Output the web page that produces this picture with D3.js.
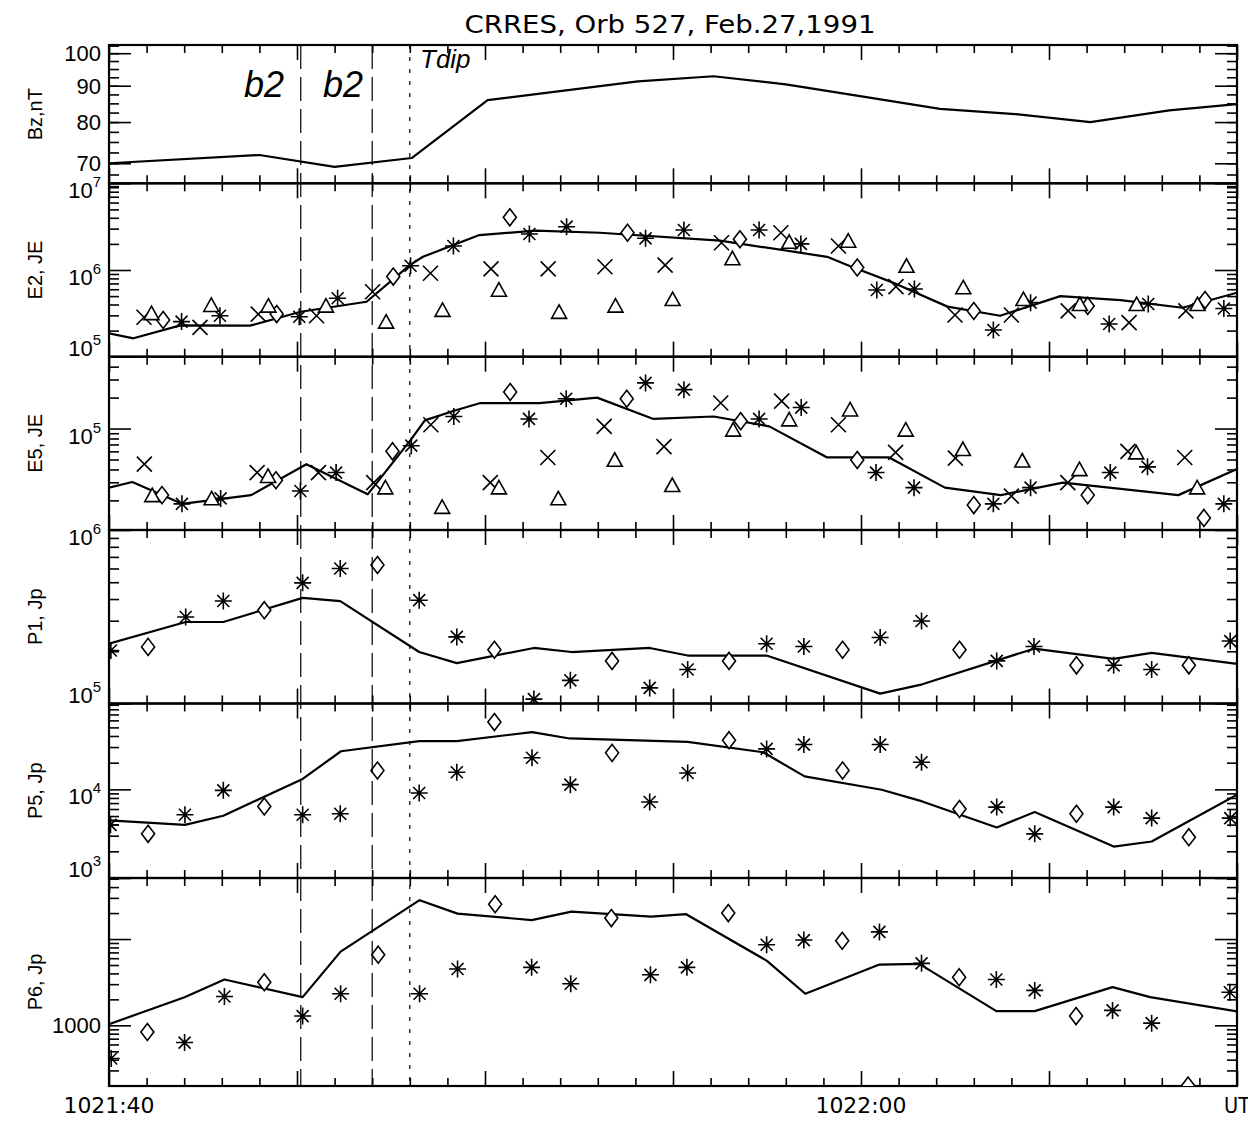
<!DOCTYPE html>
<html>
<head>
<meta charset="utf-8">
<script src="https://cdn.jsdelivr.net/npm/d3@7"></script>
<style>
  body { margin: 0; background: #fff; }
  svg text { fill: #000; }
</style>
</head>
<body>
<svg id="chart" width="1248" height="1122"></svg>
<script>
// seconds after 1021:40 UT
var xTicksMajor = [0, 5, 10, 15, 20, 25, 30];
var xTickLabels = ["1021:40", "", "", "", "1022:00", "", "UT"];
var boundaryT = [5.1, 7.0];
var tdipT = 8.0;

// Bz, nT
var bzT = [0, 4.0, 6.0, 8.05, 10.07, 14.07, 16.08, 18.0, 20.1, 22.1, 24.1, 26.1, 28.2, 30];
var bzV = [70.0, 71.9, 69.2, 71.2, 85.9, 91.3, 92.8, 90.4, 86.8, 83.5, 82.1, 80.0, 83.1, 84.8];
var bzTickLabels = [70, 80, 90, 100];

// E2, JE
var e2LineT = [0, 0.65, 1.9, 3.75, 5.1, 6.85, 8.0, 8.35, 9.85, 11.35, 13.05, 16.25, 19.1, 19.7, 20.8, 22.3, 23.7, 25.3, 26.9, 28.55, 30];
var e2LineV = [1.86e5, 1.63e5, 2.3e5, 2.28e5, 3.3e5, 4.3e5, 1.14e6, 1.42e6, 2.53e6, 2.84e6, 2.69e6, 2.18e6, 1.42e6, 1.11e6, 7.3e5, 3.78e5, 2.97e5, 5.0e5, 4.5e5, 3.67e5, 5.47e5];
var e2StarT = [1.93, 2.95, 5.06, 6.08, 8.02, 9.16, 11.18, 12.17, 14.27, 15.29, 17.29, 18.4, 20.42, 21.42, 23.52, 24.51, 26.6, 27.64, 29.65];
var e2StarV = [2.54e5, 2.97e5, 2.89e5, 4.72e5, 1.12e6, 1.89e6, 2.6e6, 3.16e6, 2.32e6, 2.89e6, 2.89e6, 2.0e6, 5.88e5, 6.04e5, 2.03e5, 4.2e5, 2.38e5, 4.05e5, 3.6e5];
var e2DiamT = [1.44, 4.46, 7.56, 10.66, 13.79, 16.78, 19.9, 23.0, 26.03, 29.15];
var e2DiamV = [2.65e5, 3.1e5, 8.4e5, 4.05e6, 2.69e6, 2.26e6, 1.07e6, 3.37e5, 3.85e5, 4.5e5];
var e2CrossT = [0.93, 2.42, 3.97, 5.52, 7.01, 8.55, 10.16, 11.68, 13.19, 14.79, 16.29, 17.87, 19.4, 20.93, 22.5, 24.0, 25.51, 27.13, 28.64];
var e2CrossV = [2.85e5, 2.18e5, 3.1e5, 2.97e5, 5.62e5, 9.17e5, 1.03e6, 1.03e6, 1.09e6, 1.14e6, 2.06e6, 2.69e6, 1.89e6, 6.42e5, 3.03e5, 3.03e5, 3.38e5, 2.47e5, 3.38e5];
var e2TriT = [1.13, 2.72, 4.24, 5.77, 7.37, 8.87, 10.37, 11.97, 13.47, 14.99, 16.58, 18.09, 19.66, 21.21, 22.72, 24.32, 25.82, 27.33, 28.95];
var e2TriV = [3.1e5, 3.85e5, 3.78e5, 3.78e5, 2.47e5, 3.38e5, 5.77e5, 3.2e5, 3.78e5, 4.5e5, 1.33e6, 2.06e6, 2.12e6, 1.09e6, 6.15e5, 4.5e5, 3.94e5, 3.94e5, 3.94e5];
var e2TickLabels = [1e5, 1e6, 1e7];

// E5, JE
var e5LineT = [0, 0.62, 1.94, 3.78, 5.25, 6.88, 8.04, 8.4, 9.2, 9.88, 11.45, 12.98, 14.48, 16.08, 17.56, 19.1, 20.75, 22.23, 23.72, 25.37, 28.44, 30];
var e5LineV = [2.66e4, 3.02e4, 1.85e4, 2.25e4, 4.5e4, 2.29e4, 7.9e4, 1.2e5, 1.5e5, 1.77e5, 1.77e5, 2.0e5, 1.24e5, 1.31e5, 1.05e5, 5.23e4, 5.23e4, 2.66e4, 2.25e4, 2.98e4, 2.25e4, 4.03e4];
var e5StarT = [1.94, 2.97, 5.09, 6.04, 8.04, 9.17, 11.17, 12.16, 14.27, 15.29, 17.29, 18.41, 20.4, 21.41, 23.52, 24.51, 26.63, 27.62, 29.65];
var e5StarV = [1.85e4, 2.09e4, 2.47e4, 3.73e4, 6.81e4, 1.31e5, 1.24e5, 1.95e5, 2.78e5, 2.39e5, 1.24e5, 1.6e5, 3.73e4, 2.66e4, 1.85e4, 2.66e4, 3.73e4, 4.24e4, 1.85e4];
var e5DiamT = [1.41, 4.44, 7.54, 10.67, 13.77, 16.8, 19.9, 23.0, 26.03, 29.12];
var e5DiamV = [2.25e4, 3.14e4, 6.0e4, 2.27e5, 1.95e5, 1.18e5, 4.94e4, 1.8e4, 2.25e4, 1.35e4];
var e5CrossT = [0.94, 3.94, 5.57, 7.04, 8.56, 10.14, 11.67, 13.17, 14.76, 16.27, 17.89, 19.4, 20.92, 22.51, 24.0, 25.5, 27.1, 28.61];
var e5CrossV = [4.5e4, 3.73e4, 3.73e4, 2.98e4, 1.09e5, 2.98e4, 5.23e4, 1.05e5, 6.66e4, 1.77e5, 1.85e5, 1.09e5, 5.86e4, 5.16e4, 2.2e4, 2.98e4, 6.0e4, 5.23e4];
var e5TriT = [1.15, 2.73, 4.23, 7.35, 8.86, 10.37, 11.95, 13.45, 14.98, 16.6, 18.09, 19.71, 21.19, 22.71, 24.29, 25.81, 27.32, 28.94];
var e5TriV = [2.2e4, 2.05e4, 3.38e4, 2.62e4, 1.69e4, 2.62e4, 2.05e4, 4.86e4, 2.76e4, 9.55e4, 1.2e5, 1.5e5, 9.55e4, 6.18e4, 4.78e4, 3.94e4, 5.73e4, 2.62e4];
var e5TickLabels = [1e5];

// P1, Jp
var p1LineT = [0, 2.04, 3.04, 5.15, 6.15, 8.25, 9.25, 11.3, 12.3, 14.38, 15.39, 17.49, 20.51, 21.63, 24.6, 26.72, 27.73, 30];
var p1LineV = [2.21e5, 2.95e5, 2.95e5, 4.06e5, 3.89e5, 1.98e5, 1.71e5, 2.09e5, 1.98e5, 2.09e5, 1.89e5, 1.89e5, 1.14e5, 1.29e5, 2.07e5, 1.81e5, 1.96e5, 1.69e5];
var p1StarT = [0.05, 2.04, 3.04, 5.15, 6.15, 8.25, 9.25, 11.3, 12.27, 14.38, 15.39, 17.49, 18.48, 20.51, 21.61, 23.61, 24.6, 26.72, 27.73, 29.82];
var p1StarV = [2.02e5, 3.15e5, 3.9e5, 4.96e5, 6.0e5, 3.94e5, 2.42e5, 1.06e5, 1.36e5, 1.23e5, 1.57e5, 2.21e5, 2.13e5, 2.4e5, 2.99e5, 1.76e5, 2.13e5, 1.66e5, 1.57e5, 2.29e5];
var p1DiamT = [1.04, 4.13, 7.14, 10.25, 13.38, 16.49, 19.51, 22.62, 25.73, 28.72];
var p1DiamV = [2.12e5, 3.45e5, 6.28e5, 2.04e5, 1.76e5, 1.76e5, 2.04e5, 2.04e5, 1.66e5, 1.66e5];
var p1TickLabels = [1e5, 1e6];

// P5, Jp
var p5LineT = [0, 2.02, 3.04, 5.15, 6.17, 8.25, 9.25, 11.25, 12.25, 15.39, 17.4, 18.5, 20.55, 21.63, 23.61, 24.62, 26.72, 27.73, 30];
var p5LineV = [4.46e3, 3.98e3, 5.04e3, 1.31e4, 2.69e4, 3.5e4, 3.5e4, 4.42e4, 3.75e4, 3.44e4, 2.62e4, 1.4e4, 9.9e3, 7.31e3, 3.72e3, 5.55e3, 2.26e3, 2.58e3, 8.7e3];
var p5StarT = [0.04, 2.02, 3.04, 5.15, 6.15, 8.25, 9.25, 11.25, 12.27, 14.38, 15.39, 17.49, 18.48, 20.51, 21.61, 23.61, 24.62, 26.72, 27.73, 29.82];
var p5StarV = [3.98e3, 5.17e3, 9.75e3, 5.17e3, 5.3e3, 9.1e3, 1.56e4, 2.27e4, 1.13e4, 7.2e3, 1.53e4, 2.86e4, 3.2e4, 3.2e4, 2.02e4, 6.31e3, 3.15e3, 6.31e3, 4.74e3, 4.74e3];
var p5DiamT = [1.04, 4.13, 7.14, 10.25, 13.38, 16.49, 19.51, 22.62, 25.73, 28.72];
var p5DiamV = [3.15e3, 6.42e3, 1.63e4, 5.74e4, 2.58e4, 3.59e4, 1.63e4, 6.0e3, 5.3e3, 2.89e3];
var p5TickLabels = [1e3, 1e4];

// P6, Jp
var p6LineT = [0, 2.01, 3.07, 5.15, 6.16, 8.26, 9.27, 11.24, 12.3, 14.42, 15.35, 17.49, 18.52, 20.49, 21.55, 23.6, 24.62, 26.69, 27.69, 30];
var p6LineV = [1.03e3, 2.12e3, 3.4e3, 2.12e3, 7.14e3, 2.82e4, 1.97e4, 1.66e4, 2.08e4, 1.82e4, 1.94e4, 5.62e3, 2.32e3, 5.06e3, 5.15e3, 1.46e3, 1.46e3, 2.77e3, 2.12e3, 1.45e3];
var p6StarT = [0.06, 2.01, 3.07, 5.15, 6.16, 8.26, 9.27, 11.24, 12.28, 14.4, 15.37, 17.49, 18.48, 20.49, 21.61, 23.6, 24.62, 26.69, 27.73, 29.81];
var p6StarV = [413, 631, 2.16e3, 1.28e3, 2.32e3, 2.32e3, 4.5e3, 4.7e3, 3.03e3, 3.85e3, 4.7e3, 8.6e3, 9.73e3, 1.21e4, 5.23e3, 3.4e3, 2.54e3, 1.49e3, 1.06e3, 2.42e3];
var p6DiamT = [1.02, 4.13, 7.16, 10.27, 13.36, 16.47, 19.5, 22.61, 25.72, 28.7];
var p6DiamV = [837, 3.16e3, 6.59e3, 2.53e4, 1.75e4, 2.0e4, 9.55e3, 3.61e3, 1.28e3, 200];
var p6TickLabels = [1000];

var svg = d3.select('#chart');
var x = d3.scaleLinear().domain([0, 30]).range([109, 1237]);
var lblFont = '"Liberation Sans", Arial, sans-serif';
var narrowFont = '"Liberation Sans Narrow", "DejaVu Sans Condensed", sans-serif';

var panels = [
  {name: 'Bz,nT', top: 45, bottom: 183.3, domain: [65.6, 102.7], fmt: 'plain',
   line: [bzT, bzV], marks: [], labels: bzTickLabels,
   major: [70, 80, 90, 100], minor: d3.range(65, 103, 2.5)},
  {name: 'E2, JE', top: 183.3, bottom: 356.7, domain: [1e5, 1e7], fmt: 'exp',
   line: [e2LineT, e2LineV], labels: e2TickLabels,
   marks: [['star', e2StarT, e2StarV], ['diamond', e2DiamT, e2DiamV], ['cross', e2CrossT, e2CrossV], ['tri', e2TriT, e2TriV]]},
  {name: 'E5, JE', top: 356.7, bottom: 530, domain: [1.03e4, 5e5], fmt: 'exp',
   line: [e5LineT, e5LineV], labels: e5TickLabels,
   marks: [['star', e5StarT, e5StarV], ['diamond', e5DiamT, e5DiamV], ['cross', e5CrossT, e5CrossV], ['tri', e5TriT, e5TriV]]},
  {name: 'P1, Jp', top: 530, bottom: 703.5, domain: [1e5, 1e6], fmt: 'exp',
   line: [p1LineT, p1LineV], labels: p1TickLabels,
   marks: [['star', p1StarT, p1StarV], ['diamond', p1DiamT, p1DiamV]]},
  {name: 'P5, Jp', top: 703.5, bottom: 878, domain: [1e3, 9.3e4], fmt: 'exp',
   line: [p5LineT, p5LineV], labels: p5TickLabels,
   marks: [['star', p5StarT, p5StarV], ['diamond', p5DiamT, p5DiamV]]},
  {name: 'P6, Jp', top: 878, bottom: 1086, domain: [198, 5.1e4], fmt: 'plain',
   line: [p6LineT, p6LineV], labels: p6TickLabels,
   marks: [['star', p6StarT, p6StarV], ['diamond', p6DiamT, p6DiamV]]}
];

function logTicks(dom) {
  var major = [], minor = [];
  var lo = Math.floor(Math.log10(dom[0])), hi = Math.ceil(Math.log10(dom[1]));
  for (var n = lo; n <= hi; n++) {
    for (var k = 1; k <= 9; k++) {
      var v = k * Math.pow(10, n);
      if (v < dom[0] * 0.999 || v > dom[1] * 1.001) continue;
      if (k == 1) major.push(v); else minor.push(v);
    }
  }
  return {major: major, minor: minor};
}

// marker paths, centred on 0,0
var symbols = {
  star: 'M0,-8.5V8.5M-8.5,0H8.5M-6,-6L6,6M-6,6L6,-6',
  cross: 'M-7.5,-7.5L7.5,7.5M-7.5,7.5L7.5,-7.5',
  diamond: 'M0,-8.5L6.5,0L0,8.5L-6.5,0Z',
  tri: 'M0,-8L7.5,5.5H-7.5Z'
};

panels.forEach(function(p, i) {
  var y = d3.scaleLog().domain(p.domain).range([p.bottom, p.top]);
  var g = svg.append('g');
  var major = p.major, minor = p.minor;
  if (!major) { var lt = logTicks(p.domain); major = lt.major; minor = lt.minor; }

  // clip region for data
  g.append('clipPath').attr('id', 'clip' + i)
    .append('rect').attr('x', x(0)).attr('y', p.top)
    .attr('width', x(30) - x(0)).attr('height', p.bottom - p.top);

  var xMinor = d3.range(0, 31).filter(function(t) { return t % 5 != 0; });

  // x ticks top (pointing down) and bottom (pointing up)
  [[xTicksMajor, 15], [xMinor, 8]].forEach(function(s) {
    g.append('g').attr('transform', 'translate(0,' + p.top + ')')
      .call(d3.axisTop(x).tickValues(s[0]).tickSize(-s[1]).tickFormat(''));
    g.append('g').attr('transform', 'translate(0,' + p.bottom + ')')
      .call(d3.axisBottom(x).tickValues(s[0]).tickSize(-s[1]).tickFormat(''));
  });
  // y ticks left and right (pointing inwards)
  [[major, 22], [minor, 10]].forEach(function(s) {
    g.append('g').attr('transform', 'translate(' + x(0) + ',0)')
      .call(d3.axisLeft(y).tickValues(s[0]).tickSize(-s[1]).tickFormat(''));
    g.append('g').attr('transform', 'translate(' + x(30) + ',0)')
      .call(d3.axisRight(y).tickValues(s[0]).tickSize(-s[1]).tickFormat(''));
  });
  g.selectAll('.domain').remove();
  g.selectAll('.tick line').attr('stroke', '#000').attr('stroke-width', 1.6);

  // frame
  g.append('rect').attr('x', x(0)).attr('y', p.top)
    .attr('width', x(30) - x(0)).attr('height', p.bottom - p.top)
    .attr('fill', 'none').attr('stroke', '#000').attr('stroke-width', 2.2);

  // y tick labels
  p.labels.forEach(function(v) {
    var ty = y(v);
    if (p.fmt == 'exp') {
      var base = Math.min(ty + 15, p.bottom - 1);
      var t = g.append('text').attr('x', 101).attr('y', base)
        .attr('text-anchor', 'end').style('font-family', lblFont).style('font-size', '22px');
      t.append('tspan').text('10');
      t.append('tspan').attr('dy', -11).style('font-size', '15px').text(Math.round(Math.log10(v)));
    } else {
      var b = Math.min(ty + 8, p.bottom - 1);
      g.append('text').attr('x', 101).attr('y', b).attr('text-anchor', 'end')
        .style('font-family', lblFont).style('font-size', '22px').text(v);
    }
  });

  // axis title
  var cy = (p.top + p.bottom) / 2;
  g.append('text').attr('transform', 'translate(42,' + cy + ') rotate(-90)')
    .attr('text-anchor', 'middle').style('font-family', lblFont).style('font-size', '20px')
    .text(p.name);

  // data
  var dg = g.append('g').attr('clip-path', 'url(#clip' + i + ')');
  var pts = d3.zip(p.line[0], p.line[1]);
  dg.append('path').datum(pts)
    .attr('fill', 'none').attr('stroke', '#000').attr('stroke-width', 2.2)
    .attr('stroke-linejoin', 'round')
    .attr('d', d3.line().x(function(d) { return x(d[0]); }).y(function(d) { return y(d[1]); }));

  p.marks.forEach(function(m) {
    dg.selectAll(null).data(d3.zip(m[1], m[2])).enter().append('path')
      .attr('transform', function(d) { return 'translate(' + x(d[0]) + ',' + y(d[1]) + ')'; })
      .attr('d', symbols[m[0]])
      .attr('fill', m[0] == 'diamond' || m[0] == 'tri' ? '#fff' : 'none')
      .attr('stroke', '#000').attr('stroke-width', 1.6);
  });
});

// boundary lines through all panels
var yTop = panels[0].top, yBot = panels[panels.length - 1].bottom;
boundaryT.forEach(function(t) {
  svg.append('line').attr('x1', x(t)).attr('x2', x(t)).attr('y1', yTop).attr('y2', yBot)
    .attr('stroke', '#000').attr('stroke-width', 1.2).attr('stroke-dasharray', '24,8');
});
svg.append('line').attr('x1', x(tdipT)).attr('x2', x(tdipT)).attr('y1', yTop).attr('y2', yBot)
  .attr('stroke', '#000').attr('stroke-width', 1.2).attr('stroke-dasharray', '4,8');

// annotations
svg.append('text').attr('x', 244).attr('y', 97).style('font-family', lblFont)
  .style('font-style', 'italic').style('font-size', '36px').text('b2');
svg.append('text').attr('x', 323).attr('y', 97).style('font-family', lblFont)
  .style('font-style', 'italic').style('font-size', '36px').text('b2');
svg.append('text').attr('x', 420).attr('y', 68).style('font-family', lblFont)
  .style('font-style', 'italic').style('font-size', '26px').text('Tdip');

// title
svg.append('text').attr('x', 670).attr('y', 33).attr('text-anchor', 'middle')
  .style('font-family', narrowFont).style('font-size', '25px')
  .attr('textLength', 411).attr('lengthAdjust', 'spacingAndGlyphs')
  .text('CRRES, Orb 527, Feb.27,1991');

// x tick labels on the bottom panel
xTicksMajor.forEach(function(t, i) {
  var s = xTickLabels[i];
  if (!s) return;
  svg.append('text').attr('x', x(t)).attr('y', 1113).attr('text-anchor', 'middle')
    .style('font-family', narrowFont).style('font-size', '21px')
    .attr('textLength', s.length * 13).attr('lengthAdjust', 'spacingAndGlyphs')
    .text(s);
});
</script>
</body>
</html>
